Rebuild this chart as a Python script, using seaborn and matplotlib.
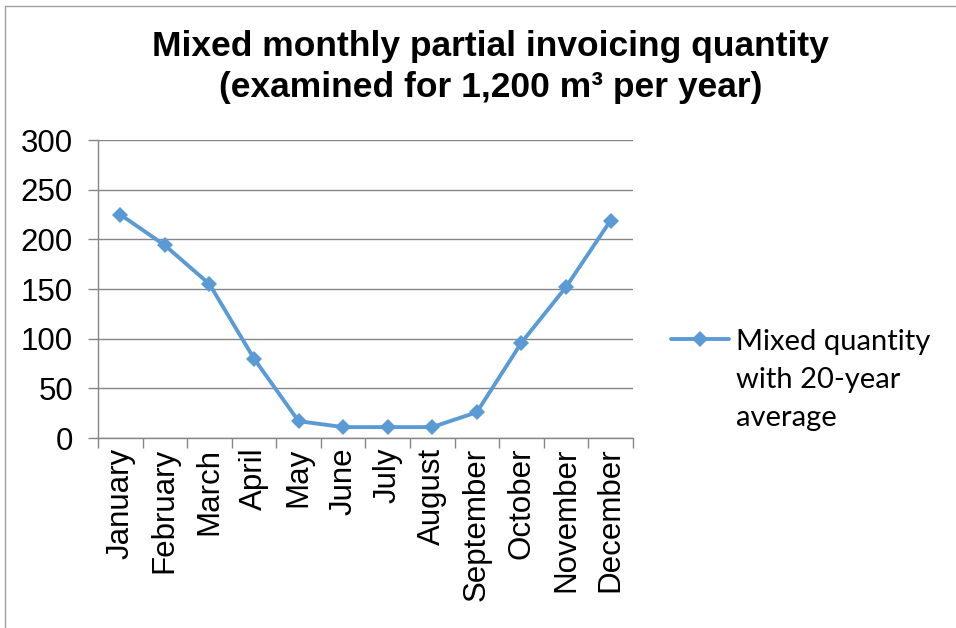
import matplotlib
matplotlib.use("Agg")
import matplotlib.pyplot as plt
import seaborn as sns
import pandas as pd
from matplotlib.ticker import FixedLocator
from matplotlib.lines import Line2D

months = ["January", "February", "March", "April", "May", "June", "July",
          "August", "September", "October", "November", "December"]
quantity = [225, 194, 155, 80, 17, 11, 11, 11, 26, 96, 152, 219]
series_label = "Mixed quantity\nwith 20-year\naverage"
title = "Mixed monthly partial invoicing quantity\n(examined for 1,200 m³ per year)"
yticks = [0, 50, 100, 150, 200, 250, 300]

df = pd.DataFrame({"month": months, "quantity": quantity})

sns.set_theme(style="white")
plt.rcParams["font.family"] = ["Liberation Sans", "DejaVu Sans"]
plt.rcParams["text.color"] = "black"
plt.rcParams["xtick.color"] = "black"
plt.rcParams["ytick.color"] = "black"

fig = plt.figure(figsize=(9.56, 6.28), dpi=100)
ax = fig.add_axes([0.1025, 0.3025, 0.5595, 0.4745])

color = "#5B9BD5"
sns.lineplot(data=df, x="month", y="quantity", ax=ax, color=color,
             linewidth=2.8, marker="D", markersize=8.5, markeredgewidth=0,
             sort=False, legend=False)

ax.set_xlim(-0.5, 11.5)
ax.set_ylim(0, 300)
ax.set_yticks(yticks)
ax.set_xticks(range(len(months)))
ax.set_xticklabels(months, rotation=90, fontsize=22.5)
ax.tick_params(axis="x", which="major", length=0, pad=7, labelcolor="black")
ax.xaxis.set_minor_locator(FixedLocator([i - 0.5 for i in range(13)]))
ax.tick_params(axis="x", which="minor", length=7, width=1, color="#868686", bottom=True)
ax.tick_params(axis="y", length=7, width=1, color="#868686", left=True, labelsize=22.5,
               pad=11, labelcolor="black")
ax.set_xlabel("")
ax.set_ylabel("")
ax.grid(axis="y", color="#868686", linewidth=1)
ax.set_axisbelow(True)
for s in ["top", "right"]:
    ax.spines[s].set_visible(False)
for s in ["left", "bottom"]:
    ax.spines[s].set_color("#868686")
    ax.spines[s].set_linewidth(1)

fig.suptitle(title, fontsize=25.5, fontweight="bold", y=0.952, x=0.513,
             linespacing=1.3, color="black")

handle = Line2D([], [], color=color, linewidth=2.8, marker="D", markersize=8.5, markeredgewidth=0)
leg = fig.legend([handle], [series_label], loc="upper left", bbox_to_anchor=(0.674, 0.518),
                 frameon=False, handlelength=2.0, handletextpad=0.25,
                 prop={"family": ["Lato", "DejaVu Sans"], "size": 21})
for t in leg.get_texts():
    t.set_linespacing(1.58)
    t.set_color("black")
for col in leg._legend_handle_box.get_children():
    for item in col.get_children():
        item.align = "top"

fig.add_artist(Line2D([0.005, 0.005], [0.0, 0.99], transform=fig.transFigure, color="#A0A0A0", linewidth=1))
fig.add_artist(Line2D([0.005, 1.0], [0.99, 0.99], transform=fig.transFigure, color="#A0A0A0", linewidth=1))

fig.savefig("out.png", dpi=100, facecolor="white")
